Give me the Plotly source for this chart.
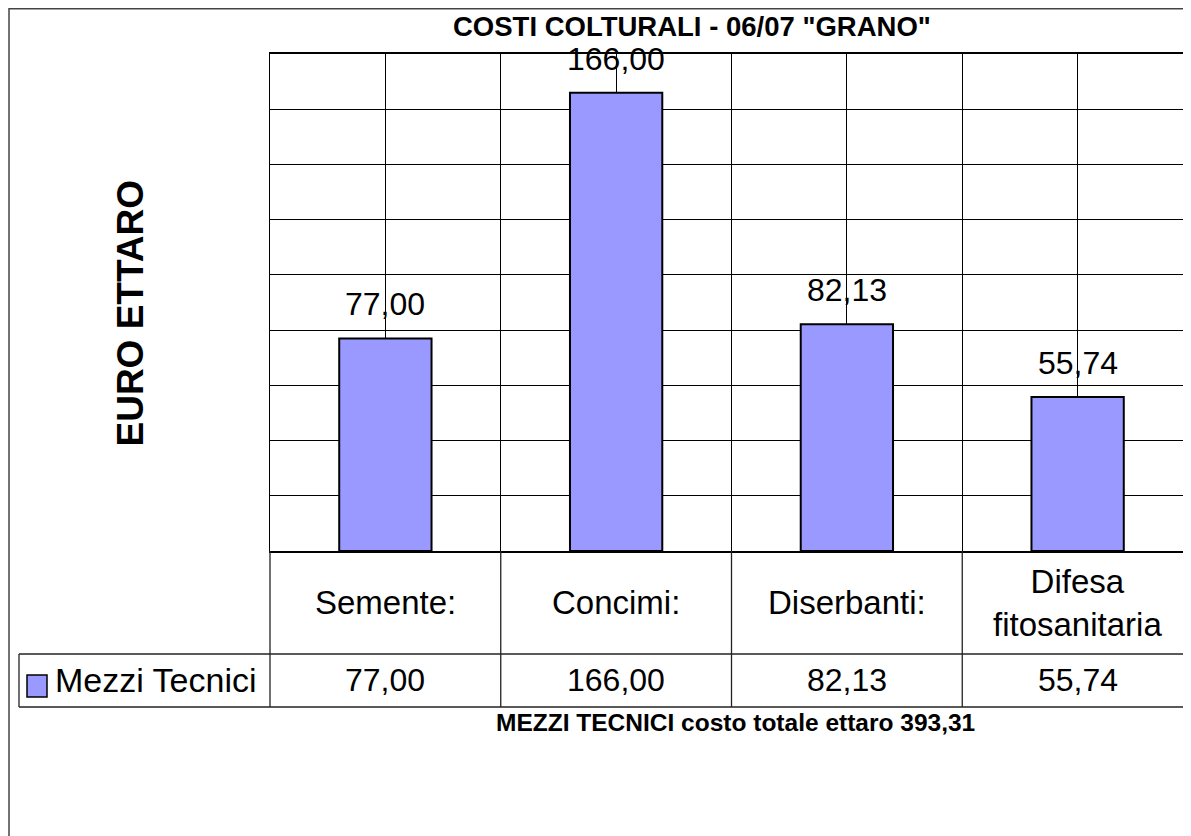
import plotly.graph_objects as go

# data
categorie = ['Semente:', 'Concimi:', 'Diserbanti:', 'Difesa<br>fitosanitaria']
mezzi_tecnici = [77.00, 166.00, 82.13, 55.74]
serie_nome = 'Mezzi Tecnici'
costo_totale = 393.31

# the page body has an 8px margin, so the figure starts at (8, 8)
OFF = 8
W, H = 1191 - OFF, 836 - OFF
L, T, B = 270 - OFF, 54 - OFF, 551 - OFF   # plot area edges in figure pixels
cat_px = 230.75                             # width of one category in pixels
xr = [-0.5, -0.5 + (W - L) / cat_px]
font = 'Liberation Sans, Arial, sans-serif'
blue = '#9999ff'


def fmt(v):
    return f'{v:.2f}'.replace('.', ',')


def px_x(p):  # page pixel -> paper x
    return (p - OFF - L) / (W - L)


def px_y(p):  # page pixel -> paper y
    return (B - (p - OFF)) / (B - T)


def data_x(v):  # data x -> paper x
    return (v - xr[0]) / (xr[1] - xr[0])


xs = list(range(len(categorie)))

fig = go.Figure(go.Bar(x=xs, y=mezzi_tecnici, width=0.4,
                       marker=dict(color=blue, line=dict(color='black', width=2)),
                       name=serie_nome, showlegend=False, hoverinfo='y'))

shapes = []
line = dict(color='#222', width=1.3)
# outer frame (top edge sits on the figure's first pixel row)
shapes.append(dict(type='rect', xref='paper', yref='paper', x0=px_x(9), x1=px_x(1230),
                   y0=px_y(870), y1=px_y(8.8), line=dict(color='#444', width=1.5)))
# table rows
row1, row2 = 654, 707
for yy in (row1, row2):
    shapes.append(dict(type='line', xref='paper', yref='paper', x0=px_x(19), x1=1.01,
                       y0=px_y(yy), y1=px_y(yy), line=line))
# table columns (category boundaries)
for k in range(len(categorie)):
    xb = data_x(k - 0.5)
    shapes.append(dict(type='line', xref='paper', yref='paper', x0=xb, x1=xb,
                       y0=px_y(row2), y1=0, line=line))
shapes.append(dict(type='line', xref='paper', yref='paper', x0=px_x(19), x1=px_x(19),
                   y0=px_y(row2), y1=px_y(row1), line=line))
# legend key
shapes.append(dict(type='rect', xref='paper', yref='paper', x0=px_x(27), x1=px_x(47),
                   y0=px_y(697), y1=px_y(675), fillcolor=blue,
                   line=dict(color='black', width=1.5)))

ann = []
# bar value labels
for x, v in zip(xs, mezzi_tecnici):
    ann.append(dict(x=x, y=v, xref='x', yref='y', text=fmt(v), showarrow=False,
                    yanchor='middle', yshift=34, font=dict(size=32)))
# table: categories and values
for x, c, v in zip(xs, categorie, mezzi_tecnici):
    ann.append(dict(x=x, y=px_y((551 + row1) / 2), xref='x', yref='paper', text=c,
                    showarrow=False, yanchor='middle', font=dict(size=33)))
    ann.append(dict(x=x, y=px_y((row1 + row2) / 2), xref='x', yref='paper', text=fmt(v),
                    showarrow=False, yanchor='middle', font=dict(size=32)))
ann.append(dict(x=px_x(53), y=px_y((row1 + row2) / 2), xref='paper', yref='paper',
                text=serie_nome, showarrow=False, xanchor='left', yanchor='middle',
                font=dict(size=34)))
# titles
ann.append(dict(x=px_x(692), y=px_y(27), xref='paper', yref='paper',
                text='<b>COSTI COLTURALI - 06/07 "GRANO"</b>', showarrow=False,
                yanchor='middle', font=dict(size=27.5)))
ann.append(dict(x=px_x(107), y=px_y(313), xref='paper', yref='paper',
                text='<b>EURO ETTARO</b>', showarrow=False, textangle=-90,
                font=dict(size=37)))
ann.append(dict(x=px_x(735), y=px_y(722), xref='paper', yref='paper',
                text=f'<b>MEZZI TECNICI costo totale ettaro {fmt(costo_totale)}</b>',
                showarrow=False, yanchor='middle', font=dict(size=24.5)))

fig.update_layout(
    width=W, height=H, margin=dict(l=L, r=0, t=T, b=H - B, autoexpand=False),
    paper_bgcolor='white', plot_bgcolor='white',
    font=dict(family=font, color='black'),
    shapes=shapes, annotations=ann,
    xaxis=dict(range=xr, tick0=-0.5, dtick=0.5, showgrid=True, gridcolor='black', gridwidth=1,
               showticklabels=False, ticks='', zeroline=False, showline=True,
               linecolor='black', linewidth=1.5, mirror=True, fixedrange=True),
    yaxis=dict(range=[0, 180], dtick=20, showgrid=True, gridcolor='black', gridwidth=1,
               showticklabels=False, ticks='', zeroline=False, showline=True,
               linecolor='black', linewidth=1.3, fixedrange=True),
)

fig.write_html('out.html')
